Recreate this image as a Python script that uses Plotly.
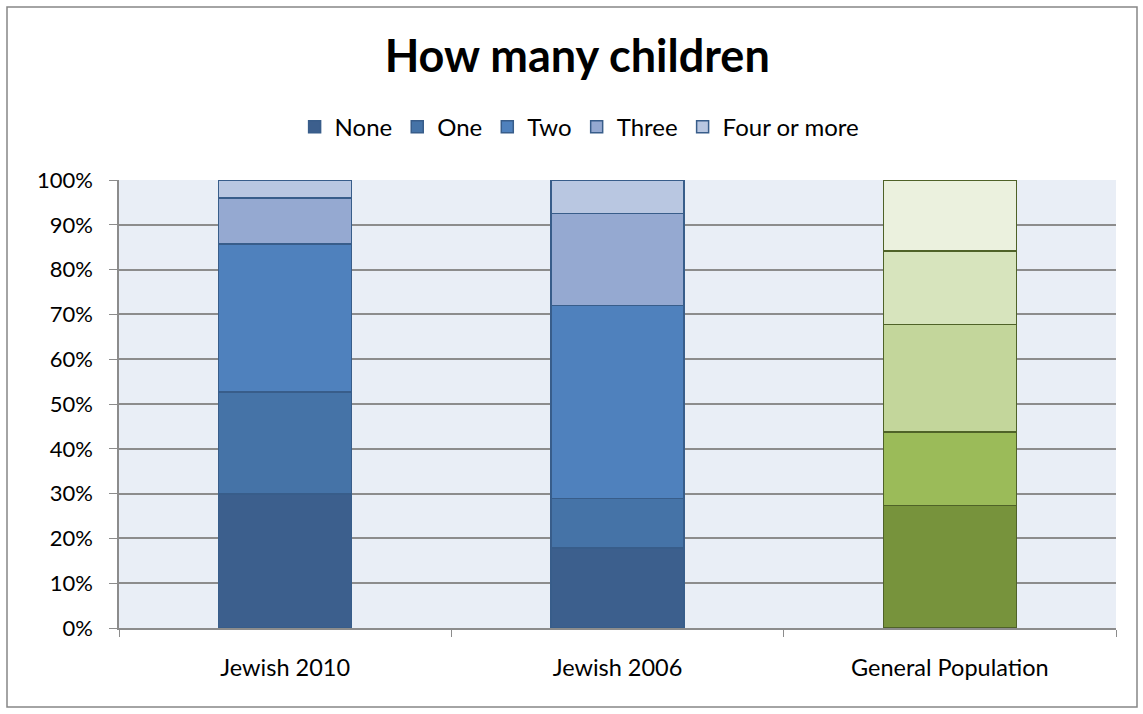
import plotly.graph_objects as go

categories = ["Jewish 2010", "Jewish 2006", "General Population"]
series_names = ["None", "One", "Two", "Three", "Four or more"]

none_vals = [29.9, 17.9, 27.4]
one_vals = [22.8, 11.0, 16.4]
two_vals = [33.0, 43.1, 24.0]
three_vals = [10.3, 20.5, 16.3]
four_vals = [4.0, 7.5, 15.9]

y_ticks = [0, 10, 20, 30, 40, 50, 60, 70, 80, 90, 100]
y_tick_labels = [f"{v}%" for v in y_ticks]

blue_fills = ["#3C5F8D", "#4573A7", "#4F81BD", "#95A9D1", "#B9C7E1"]
green_fills = ["#77933C", "#9BBB59", "#C3D69B", "#D7E4BD", "#EBF1DE"]
blue_line = "#385D8A"
green_line = "#4F6228"

FONT = "Lato, 'Open Sans', sans-serif"

fig = go.Figure()
for i, (name, vals) in enumerate(zip(series_names,
                                     [none_vals, one_vals, two_vals, three_vals, four_vals])):
    fig.add_trace(go.Bar(
        name=name,
        x=categories,
        y=vals,
        width=0.4,
        marker=dict(
            color=[blue_fills[i], blue_fills[i], green_fills[i]],
            line=dict(color=[blue_line, blue_line, green_line], width=1.5),
        ),
        hovertemplate="%{x}<br>" + name + ": %{y}%<extra></extra>",
    ))

fig.update_layout(
    barmode="stack",
    width=1143,
    height=714,
    margin=dict(l=119, r=27, t=180, b=86),
    paper_bgcolor="white",
    plot_bgcolor="#E9EEF6",
    font=dict(family=FONT, size=23, color="black"),
    title=dict(
        text="<b>How many children</b>",
        x=0.505, xanchor="center",
        y=1 - 56 / 714, yanchor="middle",
        font=dict(family=FONT, size=45, color="black"),
    ),
    legend=dict(
        orientation="h",
        x=0.462, xanchor="center",
        y=1.118, yanchor="middle",
        font=dict(family=FONT, size=24, color="black"),
        traceorder="normal",
        itemwidth=30,
        bgcolor="rgba(0,0,0,0)",
    ),
    showlegend=True,
    xaxis=dict(
        type="category",
        showgrid=False,
        showline=True, linecolor="#8C8C8C", linewidth=1.5,
        ticks="outside", tickson="boundaries", ticklen=7, tickcolor="#8C8C8C",
        tickfont=dict(family=FONT, size=23.5, color="black"),
        ticklabelstandoff=18,
        range=[-0.5, 2.5],
    ),
    yaxis=dict(
        range=[0, 100],
        tickmode="array",
        tickvals=y_ticks,
        ticktext=y_tick_labels,
        showgrid=True, gridcolor="#8C8C8C", gridwidth=1.5,
        showline=True, linecolor="#8C8C8C", linewidth=1.5,
        ticks="outside", ticklen=8, tickcolor="#8C8C8C",
        tickfont=dict(family=FONT, size=22, color="black"),
        ticklabelstandoff=12,
        zeroline=False,
    ),
    shapes=[
        dict(
            type="rect", xref="paper", yref="paper",
            x0=(7 - 119) / 997, x1=(1137 - 119) / 997,
            y0=(628 - 707) / 448, y1=(628 - 7) / 448,
            line=dict(color="#868686", width=1.5),
            fillcolor="rgba(0,0,0,0)",
            layer="below",
        )
    ],
)

fig.write_html("out.html")
